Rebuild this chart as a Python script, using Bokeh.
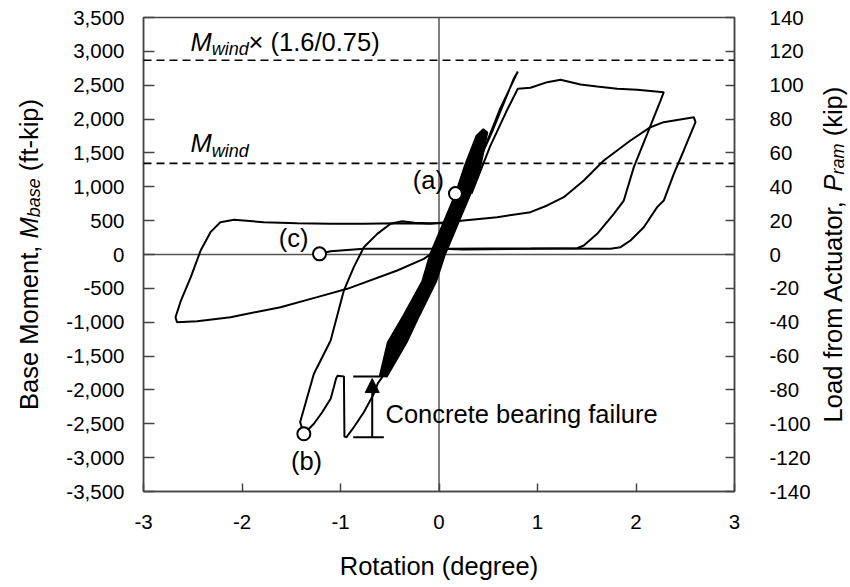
from bokeh.plotting import figure
from bokeh.layouts import row
from bokeh.models import (Range1d, LinearAxis, FixedTicker, Span, Label, Arrow,
                          NormalHead)
from bokeh.embed import file_html
from bokeh.resources import INLINE

# ---------------- data ----------------
x_ticks = [-3, -2, -1, 0, 1, 2, 3]
x_labels = ["-3", "-2", "-1", "0", "1", "2", "3"]
moment_ticks = [-3500, -3000, -2500, -2000, -1500, -1000, -500, 0,
                500, 1000, 1500, 2000, 2500, 3000, 3500]
moment_labels = ["-3,500", "-3,000", "-2,500", "-2,000", "-1,500", "-1,000", "-500", "0",
                 "500", "1,000", "1,500", "2,000", "2,500", "3,000", "3,500"]
kip_ticks = [-140, -120, -100, -80, -60, -40, -20, 0, 20, 40, 60, 80, 100, 120, 140]
kip_labels = ["-140", "-120", "-100", "-80", "-60", "-40", "-20", "0",
              "20", "40", "60", "80", "100", "120", "140"]

m_wind = 1345
m_wind_factored = 2869

# elastic cycles (dense band)
band_x = [-0.60, -0.52, -0.36, -0.17, -0.09, 0.04, 0.17, 0.26, 0.38, 0.45,
          0.49, 0.42, 0.32, 0.19, 0.06, -0.03, -0.20, -0.33, -0.53]
band_y = [-1790, -1300, -900, -400, 0, 450, 900, 1300, 1750, 1850,
          1800, 1300, 900, 450, 0, -400, -900, -1300, -1800]

# first loading to the peak
peak1_x = [0.24, 0.47, 0.62, 0.80, 0.76, 0.55, 0.38]
peak1_y = [800, 1600, 2150, 2700, 2600, 1850, 1300]

# negative loading, concrete bearing failure, down to (b)
neg1_x = [-0.56, -0.62, -0.662, -0.763, -0.865, -0.939, -0.96, -0.965, -1.03, -1.045,
          -1.068, -1.10, -1.186, -1.27, -1.338, -1.372]
neg1_y = [-1780, -1900, -2058, -2329, -2551, -2698, -2690, -1800, -1790, -1830,
          -1960, -2131, -2329, -2500, -2600, -2648]

# reversal from (b)
rev_b_x = [-1.372, -1.41, -1.346, -1.27, -1.10, -0.966, -0.865, -0.763, -0.627,
           -0.492, -0.374, -0.25, -0.10, 0.05]
rev_b_y = [-2648, -2476, -2150, -1762, -1270, -532, -187, 108, 305,
           453, 492, 470, 460, 460]

# first large positive excursion and unloading
pos1_x = [0.33, 0.52, 0.68, 0.80, 0.929, 1.098, 1.234, 1.437, 1.606, 1.809, 2.012,
          2.282, 2.249, 2.114, 1.978, 1.876, 1.775, 1.606, 1.47, 1.403, 0.929, 0.25, 0.015]
pos1_y = [900, 1600, 2100, 2447, 2462, 2545, 2580, 2511, 2481, 2447, 2432,
          2397, 2274, 1782, 1290, 797, 601, 305, 133, 93, 84, 74, 84]

# large negative excursion, second positive excursion, final unloading to (c)
cyc2_x = [0.015, -0.05, -0.154, -0.424, -0.932, -1.237, -1.609, -2.117, -2.455, -2.66,
          -2.675, -2.62, -2.52, -2.42, -2.32, -2.22, -2.08, -1.78, -1.44, -1.10,
          -0.763, -0.424, -0.085, 0.25, 0.59, 0.929, 1.098, 1.267, 1.47, 1.673,
          1.944, 2.147, 2.28, 2.587, 2.604, 2.485, 2.384, 2.282, 2.215, 2.079,
          1.944, 1.843, 1.741, 1.0, 0.5, 0.05, -0.424, -0.763, -1.10, -1.213]
cyc2_y = [84, 40, -64, -236, -507, -630, -778, -926, -985, -1000,
          -926, -680, -335, 59, 330, 477, 512, 477, 463, 453,
          453, 463, 453, 502, 551, 625, 724, 846, 1093, 1388,
          1684, 1880, 1954, 2028, 1954, 1536, 1192, 797, 699, 403,
          207, 108, 84, 90, 88, 84, 84, 84, 49, 10]

# marked points (a), (b), (c)
pt_x = [0.167, -1.372, -1.213]
pt_y = [900, -2648, 10]

# concrete bearing failure marker
fail_x = -0.678
fail_low = -2698
fail_high = -1802
bar_x0 = -0.871
bar_x1_low = -0.56
bar_x1_high = -0.58

# ---------------- layout constants ----------------
FONT = "Liberation Sans"
H = 585
LEFT_W = 50
MAIN_W = 764
RIGHT_W = 34
FRAME_L, FRAME_R, FRAME_T, FRAME_B = 143, 734, 17, 491   # page pixels
K = 0.3465   # baseline correction (fraction of font size)

# ---------------- main figure ----------------
p = figure(width=MAIN_W, height=H, output_backend="svg", toolbar_location=None,
           x_range=Range1d(-3, 3), y_range=Range1d(-3500, 3500),
           min_border_left=FRAME_L - LEFT_W,
           min_border_right=LEFT_W + MAIN_W - FRAME_R,
           min_border_top=FRAME_T, min_border_bottom=H - FRAME_B)
p.extra_y_ranges = {"kip": Range1d(-140, 140)}
p.add_layout(LinearAxis(y_range_name="kip"), "right")
p.grid.visible = False
p.background_fill_color = "white"
p.border_fill_color = "white"
p.outline_line_color = "#444444"
p.outline_line_width = 1.5

AX = "#444444"
for ax in p.axis:
    ax.axis_line_color = AX
    ax.axis_line_width = 1.5
    ax.major_tick_line_color = AX
    ax.major_tick_line_width = 1.5
    ax.minor_tick_line_color = None
    ax.major_tick_out = 0
    ax.major_label_text_font = FONT
    ax.major_label_text_font_size = "20.5px"
    ax.major_label_text_color = "black"

xa = p.below[0]
xa.ticker = FixedTicker(ticks=x_ticks)
xa.major_label_overrides = {t: s for t, s in zip(x_ticks, x_labels)}
xa.major_tick_in = 8
xa.major_label_standoff = 23
xa.axis_label = "Rotation (degree)"
xa.axis_label_text_font = FONT
xa.axis_label_text_font_size = "25.5px"
xa.axis_label_text_font_style = "normal"
xa.axis_label_text_color = "black"
xa.axis_label_standoff = 20

ya = p.left[0]
ya.ticker = FixedTicker(ticks=moment_ticks)
ya.major_label_overrides = {t: s for t, s in zip(moment_ticks, moment_labels)}
ya.major_tick_in = 11
ya.major_label_standoff = 19

ra = p.right[0]
ra.ticker = FixedTicker(ticks=kip_ticks)
ra.major_label_overrides = {t: s for t, s in zip(kip_ticks, kip_labels)}
ra.major_tick_in = 9
ra.major_label_standoff = 35

# zero lines and reference lines
p.add_layout(Span(location=0, dimension="width", line_color="#555555", line_width=1.5, level="underlay"))
p.add_layout(Span(location=0, dimension="height", line_color="#555555", line_width=1.5, level="underlay"))
for v in (m_wind, m_wind_factored):
    p.add_layout(Span(location=v, dimension="width", line_color="black",
                      line_width=1.6, line_dash="8 5"))

# curves
p.patch(band_x, band_y, fill_color="black", line_color="black", line_width=2)
for xs, ys in ((peak1_x, peak1_y), (neg1_x, neg1_y), (rev_b_x, rev_b_y),
               (pos1_x, pos1_y), (cyc2_x, cyc2_y)):
    p.line(xs, ys, line_color="black", line_width=2)

# failure marker
p.segment(x0=[bar_x0, bar_x0], y0=[fail_low, fail_high],
          x1=[bar_x1_low, bar_x1_high], y1=[fail_low, fail_high],
          line_color="black", line_width=2)
p.add_layout(Arrow(x_start=fail_x, y_start=fail_low, x_end=fail_x, y_end=fail_high - 30,
                   line_color="black", line_width=2,
                   end=NormalHead(size=14, fill_color="black", line_color="black")))

p.scatter(pt_x, pt_y, size=13, fill_color="white", line_color="black", line_width=2)


def dx(px):
    return -3 + (px - FRAME_L) * 6 / (FRAME_R - FRAME_L)


def dy(py):
    return 3500 - (py - FRAME_T) * 7000 / (FRAME_B - FRAME_T)


def lab(fig, text, x, y, size=25.5, style="normal", align="left", angle=0.0):
    fig.add_layout(Label(x=x, y=y, text=text, text_font=FONT,
                         text_font_size="%.1fpx" % size, text_font_style=style,
                         text_align=align, text_baseline="alphabetic",
                         text_color="black", angle=angle))


def plab(text, px, py, size=25.5, **kw):
    # py is the wanted baseline (page pixels)
    lab(p, text, dx(px), dy(py - K * size), size=size, **kw)


# reference line labels
plab("M", 190, 50, style="italic")
plab("wind", 211.2, 55, size=18, style="italic")
plab("\u00d7 (1.6/0.75)", 248, 50)
plab("M", 190, 151.7, style="italic")
plab("wind", 211.2, 156.7, size=18, style="italic")

# point labels
plab("(a)", 443.5, 188, align="right")
plab("(b)", 306, 469.7, align="center")
plab("(c)", 308, 246.4, align="right")
plab("Concrete bearing failure", 385, 422.7)


# ---------------- side title figures ----------------
def text_fig(w):
    f = figure(width=w, height=H, output_backend="svg", toolbar_location=None,
               x_range=Range1d(0, w), y_range=Range1d(-FRAME_B, -FRAME_T),
               min_border_left=0, min_border_right=0,
               min_border_top=FRAME_T, min_border_bottom=H - FRAME_B,
               x_axis_location=None, y_axis_location=None)
    f.outline_line_color = None
    f.grid.visible = False
    f.background_fill_color = "white"
    f.border_fill_color = "white"
    return f


def rlab(fig, x0, text, bx, py, size=25.5, **kw):
    # rotated text; bx = baseline x (page px), py = start y (page px)
    lab(fig, text, bx - K * size - x0, -py, size=size, angle=1.5707963, **kw)


lf = text_fig(LEFT_W)
rlab(lf, 0, "Base Moment,", 37.3, 409.5)
rlab(lf, 0, "M", 37.3, 238, style="italic")
rlab(lf, 0, "base", 39.3, 216.8, size=18, style="italic")
rlab(lf, 0, "(ft-kip)", 37.3, 170.7)

rf = text_fig(RIGHT_W)
R0 = LEFT_W + MAIN_W
rlab(rf, R0, "Load from Actuator,", 841.7, 421.9)
rlab(rf, R0, "P", 841.7, 190.9, style="italic")
rlab(rf, R0, "ram", 843.7, 173.9, size=18, style="italic")
rlab(rf, R0, "(kip)", 841.7, 135.8)

layout = row(lf, p, rf)
open("out.html", "w").write(file_html(layout, INLINE))
